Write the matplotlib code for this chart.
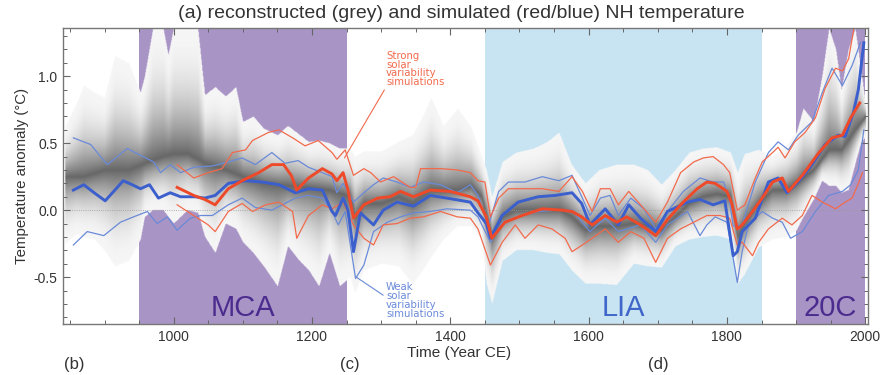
import numpy as np
import matplotlib
matplotlib.use("Agg")
import matplotlib.pyplot as plt
from matplotlib.ticker import MultipleLocator

# ---------------- data ----------------
blue_thick_years = [855, 870, 885, 901, 915, 927, 940, 952, 965, 978, 995, 1010, 1031, 1045, 1060, 1079, 1104,
                    1128, 1152, 1176, 1195, 1215, 1229, 1234, 1245, 1252, 1260, 1270, 1289, 1303, 1323, 1347,
                    1371, 1395, 1429, 1440, 1452, 1458, 1475, 1498, 1527, 1552, 1576, 1590, 1602, 1624, 1643,
                    1658, 1675, 1697, 1714, 1743, 1761, 1780, 1797, 1809, 1815, 1822, 1841, 1860, 1874, 1887,
                    1903, 1923, 1942, 1961, 1971, 1983, 1990, 1998]
blue_thick = [0.15, 0.19, 0.13, 0.07, 0.15, 0.22, 0.19, 0.16, 0.19, 0.09, 0.13, 0.10, 0.10, 0.09, 0.11, 0.20, 0.22,
              0.21, 0.19, 0.13, 0.16, 0.15, -0.01, -0.04, 0.09, 0.0, -0.31, -0.02, -0.11, 0.0, 0.06, 0.03,
              0.11, 0.09, 0.06, -0.02, -0.10, -0.21, -0.04, 0.06, 0.10, 0.11, 0.13, 0.05, -0.11, 0.01, -0.11,
              0.04, -0.06, -0.16, -0.01, 0.06, 0.08, 0.04, 0.07, -0.34, -0.31, -0.16, -0.06, 0.21, 0.24, 0.13,
              0.21, 0.34, 0.49, 0.56, 0.55, 0.73, 0.90, 1.25]

red_thick_years = [1005, 1029, 1045, 1060, 1079, 1099, 1123, 1142, 1159, 1170, 1178, 1195, 1215, 1229, 1236,
                   1245, 1252, 1260, 1275, 1295, 1313, 1328, 1347, 1371, 1400, 1429, 1440, 1452, 1460, 1479,
                   1504, 1533, 1562, 1576, 1590, 1605, 1624, 1641, 1655, 1675, 1697, 1714, 1733, 1757, 1771,
                   1783, 1800, 1807, 1815, 1822, 1837, 1851, 1866, 1880, 1889, 1909, 1933, 1952, 1967, 1979, 1992]
red_thick = [0.17, 0.11, 0.08, 0.04, 0.16, 0.22, 0.28, 0.34, 0.34, 0.26, 0.15, 0.24, 0.31, 0.27, 0.22,
             0.28, 0.15, -0.06, 0.04, 0.09, 0.10, 0.14, 0.10, 0.15, 0.14, 0.10, 0.07, -0.05, -0.21, -0.09,
             -0.04, 0.01, 0.0, -0.01, -0.05, -0.11, -0.04, -0.09, -0.05, -0.11, -0.19, -0.07, 0.04, 0.16, 0.21,
             0.20, 0.14, 0.05, -0.14, -0.11, -0.01, 0.09, 0.21, 0.24, 0.14, 0.26, 0.43, 0.54, 0.56, 0.69, 0.80]

blue_up_years = [855, 880, 904, 933, 952, 971, 981, 995, 1010, 1029, 1056, 1079, 1099, 1118, 1142, 1161, 1180,
                 1195, 1215, 1229, 1236, 1245, 1260, 1275, 1289, 1303, 1323, 1342, 1361, 1386, 1410, 1429,
                 1440, 1455, 1470, 1484, 1508, 1533, 1557, 1576, 1591, 1602, 1617, 1631, 1643, 1661, 1680,
                 1697, 1714, 1737, 1761, 1780, 1795, 1803, 1809, 1822, 1841, 1860, 1874, 1889, 1903, 1923,
                 1938, 1952, 1967, 1981, 1993]
blue_up = [0.54, 0.49, 0.34, 0.46, 0.41, 0.36, 0.28, 0.34, 0.28, 0.32, 0.33, 0.36, 0.39, 0.34, 0.43, 0.35, 0.37,
           0.32, 0.28, 0.25, 0.13, 0.20, 0.06, 0.13, 0.19, 0.24, 0.21, 0.17, 0.21, 0.19, 0.13, 0.19,
           0.11, -0.12, 0.14, 0.21, 0.21, 0.25, 0.22, 0.26, 0.09, -0.04, 0.09, 0.11, -0.04, 0.09, 0.01,
           -0.14, -0.01, 0.14, 0.24, 0.21, 0.21, 0.10, -0.12, -0.11, 0.21, 0.43, 0.51, 0.45, 0.56, 0.66,
           0.88, 1.06, 0.93, 1.08, 1.25]

blue_low_years = [855, 875, 899, 923, 942, 962, 976, 991, 1005, 1024, 1039, 1056, 1079, 1099, 1118, 1142, 1157,
                  1176, 1195, 1215, 1229, 1238, 1248, 1263, 1275, 1289, 1309, 1328, 1347, 1371, 1395, 1429,
                  1440, 1458, 1475, 1498, 1527, 1552, 1576, 1602, 1624, 1643, 1675, 1697, 1714, 1743, 1761,
                  1771, 1783, 1800, 1815, 1822, 1831, 1851, 1866, 1880, 1892, 1909, 1928, 1947, 1967, 1979,
                  1990, 1998]
blue_low = [-0.26, -0.16, -0.19, -0.09, -0.05, -0.01, -0.10, -0.05, -0.15, -0.06, -0.04, -0.04, 0.04, 0.09, 0.02,
            0.0, 0.04, 0.09, 0.11, 0.09, -0.01, -0.11, -0.01, -0.51, -0.41, -0.16, -0.09, -0.05, -0.02, -0.01,
            0.01, 0.0, -0.05, -0.24, -0.09, -0.05, -0.01, 0.0, 0.0, -0.16, -0.06, -0.16, -0.11, -0.24, -0.11,
            -0.01, -0.19, -0.11, -0.05, -0.09, -0.54, -0.31, -0.11, -0.01, -0.06, -0.09, -0.21, -0.16, -0.01,
            0.11, 0.14, 0.19, 0.30, 0.60]

red_up_years = [1005, 1029, 1050, 1070, 1085, 1104, 1114, 1137, 1152, 1172, 1190, 1209, 1229, 1236, 1248, 1260,
                1275, 1285, 1299, 1318, 1342, 1350, 1357, 1386, 1410, 1429, 1440, 1450, 1458, 1470, 1484,
                1508, 1533, 1557, 1576, 1591, 1605, 1617, 1631, 1643, 1658, 1675, 1697, 1714, 1733, 1752,
                1766, 1780, 1795, 1804, 1815, 1826, 1841, 1851, 1866, 1874, 1884, 1898, 1913, 1928, 1942,
                1957, 1967, 1976, 1985]
red_up = [0.34, 0.24, 0.28, 0.31, 0.43, 0.45, 0.52, 0.58, 0.60, 0.54, 0.48, 0.52, 0.43, 0.38, 0.45, 0.26,
          0.31, 0.28, 0.21, 0.25, 0.17, 0.17, 0.31, 0.31, 0.30, 0.28, 0.22, 0.21, -0.05, 0.09, 0.16,
          0.16, 0.16, 0.14, 0.25, 0.14, -0.01, 0.16, 0.16, 0.04, 0.14, 0.04, -0.09, 0.06, 0.28, 0.36,
          0.39, 0.40, 0.34, 0.28, 0.0, 0.04, 0.24, 0.36, 0.43, 0.47, 0.39, 0.51, 0.58, 0.69, 0.91,
          1.06, 1.04, 1.13, 1.40]

red_low_years = [1005, 1029, 1050, 1060, 1079, 1099, 1114, 1133, 1152, 1172, 1178, 1195, 1215, 1229, 1245, 1260,
                 1275, 1289, 1303, 1323, 1342, 1361, 1386, 1410, 1429, 1440, 1458, 1475, 1494, 1508, 1527,
                 1547, 1566, 1576, 1591, 1605, 1624, 1643, 1661, 1680, 1697, 1714, 1733, 1752, 1771, 1790,
                 1804, 1815, 1822, 1837, 1846, 1860, 1880, 1894, 1909, 1923, 1938, 1957, 1971, 1981, 1990, 1996]
red_low = [0.04, -0.04, -0.11, -0.16, -0.01, 0.05, -0.01, 0.04, 0.06, -0.01, -0.21, -0.04, 0.04, 0.01, 0.06, -0.11,
           -0.21, -0.26, -0.11, -0.10, -0.06, -0.05, -0.01, -0.05, -0.06, -0.14, -0.41, -0.24, -0.11, -0.21, -0.11,
           -0.14, -0.21, -0.31, -0.26, -0.21, -0.14, -0.24, -0.16, -0.21, -0.39, -0.21, -0.14, -0.09, -0.04, -0.04,
           -0.06, -0.26, -0.24, -0.34, -0.24, -0.14, -0.06, -0.11, -0.04, 0.11, 0.06, 0.01, 0.06, 0.09, 0.20, 0.28]

# reconstruction envelope (grey): outer upper / lower edges and the darkest core
grey_years = [843, 860, 870, 885, 900, 915, 935, 952, 958, 970, 985, 992, 1000, 1020, 1035, 1045, 1060, 1075,
              1090, 1100, 1115, 1130, 1150, 1165, 1180, 1195, 1210, 1225, 1240, 1255, 1262, 1275, 1300, 1325,
              1345, 1360, 1372, 1390, 1410, 1430, 1445, 1452, 1460, 1475, 1495, 1520, 1540, 1557, 1575, 1595,
              1615, 1640, 1665, 1685, 1705, 1725, 1745, 1765, 1785, 1805, 1815, 1825, 1845, 1865, 1885, 1900,
              1910, 1925, 1937, 1947, 1957, 1965, 1975, 1985, 1993, 2000]
grey_up = [0.62, 0.80, 0.93, 0.88, 0.84, 1.15, 1.10, 0.88, 1.00, 1.36, 1.36, 1.16, 1.36, 1.36, 1.36, 0.86, 0.92, 0.85,
           0.92, 0.66, 0.70, 0.61, 0.56, 0.63, 0.57, 0.51, 0.52, 0.50, 0.46, 0.46, 0.40, 0.44, 0.44, 0.51,
           0.56, 0.70, 0.84, 0.63, 0.76, 0.62, 0.40, 0.30, 0.10, 0.36, 0.43, 0.46, 0.51, 0.58, 0.34, 0.20,
           0.30, 0.34, 0.34, 0.30, 0.19, 0.30, 0.43, 0.46, 0.47, 0.43, 0.28, 0.42, 0.45, 0.40, 0.48, 0.58,
           0.76, 0.66, 1.00, 1.36, 1.20, 0.90, 1.20, 1.36, 1.05, 0.80]
grey_low = [-0.25, -0.18, -0.20, -0.22, -0.30, -0.42, -0.38, -0.22, -0.05, 0.0, 0.0, -0.05, -0.10, 0.0, -0.02, -0.20,
            -0.32, -0.10, -0.14, -0.24, -0.32, -0.42, -0.57, -0.27, -0.37, -0.45, -0.57, -0.32, -0.57, -0.50, -0.62,
            -0.45, -0.40, -0.42, -0.55, -0.45, -0.35, -0.22, -0.12, -0.12, -0.22, -0.55, -0.70, -0.38, -0.30,
            -0.30, -0.32, -0.33, -0.45, -0.55, -0.55, -0.56, -0.40, -0.42, -0.43, -0.27, -0.22, -0.20, -0.19,
            -0.22, -0.55, -0.48, -0.28, -0.22, -0.20, -0.15, -0.05, 0.08, 0.22, 0.18, 0.18, 0.13, 0.15, 0.35,
            0.50, 0.55]
core_years = [843, 870, 900, 935, 958, 985, 1000, 1020, 1045, 1075, 1100, 1130, 1165, 1195, 1225, 1255, 1262, 1275,
              1300, 1325, 1345, 1372, 1410, 1430, 1445, 1460, 1475, 1495, 1520, 1557, 1575, 1595, 1615, 1640,
              1665, 1685, 1705, 1725, 1745, 1765, 1785, 1805, 1815, 1825, 1845, 1865, 1885, 1900, 1925, 1947,
              1965, 1985, 2000]
core = [0.25, 0.25, 0.30, 0.30, 0.35, 0.40, 0.42, 0.42, 0.35, 0.30, 0.25, 0.20, 0.18, 0.17, 0.15, 0.10, -0.05, 0.05,
        0.05, 0.10, 0.05, 0.15, 0.15, 0.18, 0.10, -0.20, -0.05, 0.0, 0.0, 0.0, -0.05, -0.15, -0.12, -0.12,
        -0.10, -0.12, -0.15, -0.05, 0.05, 0.10, 0.12, 0.10, -0.20, -0.10, 0.05, 0.15, 0.15, 0.20, 0.30, 0.45,
        0.45, 0.60, 0.70]

periods = [("MCA", 950, 1250), ("LIA", 1450, 1850), ("20C", 1900, 2000)]
x_ticks = [1000, 1200, 1400, 1600, 1800, 2000]
y_ticks = [-0.5, 0.0, 0.5, 1.0]
y_ticklabels = ["-0.5", "0.0", "0.5", "1.0"]

# ---------------- figure ----------------
plt.rcParams['font.family'] = ['Liberation Sans', 'DejaVu Sans']
fig = plt.figure(figsize=(8.9, 3.75), dpi=100)
ax = fig.add_axes([0.0708, 0.136, 0.9045, 0.7893])
XMIN, XMAX, YMIN, YMAX = 840, 2004, -0.85, 1.36
ax.set_xlim(XMIN, XMAX)
ax.set_ylim(YMIN, YMAX)

purple = '#a994c6'
lightblue = '#c8e4f2'
span_col = {"MCA": purple, "LIA": lightblue, "20C": purple}
txt_col = {"MCA": '#4b2c8e', "LIA": '#3f66c8', "20C": '#4b2c8e'}
for name, a, b in periods:
    ax.axvspan(a, b, color=span_col[name], lw=0, zorder=0)

# grey density envelope rendered as an image
xs = np.linspace(XMIN, XMAX, 1400)
ys = np.linspace(YMIN, YMAX, 600)
up = np.interp(xs, grey_years, grey_up)
lo = np.interp(xs, grey_years, grey_low)
cc = np.clip(np.interp(xs, core_years, core), lo + 0.02, up - 0.02)
X, Y = np.meshgrid(xs, ys)
UP, LO, CC = up[None, :], lo[None, :], cc[None, :]
d = np.where(Y >= CC, (Y - CC) / (UP - CC), (CC - Y) / (CC - LO))
inside = (Y <= UP) & (Y >= LO) & (X >= grey_years[0]) & (X <= grey_years[-1])
w = np.clip(1 - d, 0, 1)
v = 0.965 - 0.56 * w ** 2.2
rgba = np.zeros(Y.shape + (4,))
rgba[..., 0] = v
rgba[..., 1] = v
rgba[..., 2] = v
rgba[..., 3] = inside.astype(float)
ax.imshow(rgba, extent=[XMIN, XMAX, YMIN, YMAX], origin='lower', aspect='auto',
          interpolation='bilinear', zorder=1)

ax.axhline(0, color='#999999', lw=0.6, ls=':', zorder=1.5)

red = '#ee4a2a'
red_thin = '#f26a4c'
blue = '#3b5fcc'
blue_thin = '#6a8ad8'
ax.plot(blue_up_years, blue_up, color=blue_thin, lw=0.9, zorder=3)
ax.plot(blue_low_years, blue_low, color=blue_thin, lw=0.9, zorder=3)
ax.plot(red_up_years, red_up, color=red_thin, lw=0.9, zorder=3)
ax.plot(red_low_years, red_low, color=red_thin, lw=0.9, zorder=3)
ax.plot(blue_thick_years, blue_thick, color=blue, lw=2.1, zorder=4)
ax.plot(red_thick_years, red_thick, color=red, lw=2.1, zorder=5)

for name, a, b in periods:
    ax.text((a + b) / 2, -0.73, name, color=txt_col[name], fontsize=21,
            ha='center', va='center', zorder=6)

ax.annotate("Strong\nsolar\nvariability\nsimulations", xy=(1247, 0.39), xytext=(1307, 1.19),
            color=red_thin, fontsize=7.3, ha='left', va='top', linespacing=0.85,
            family=['DejaVu Sans'],
            arrowprops=dict(arrowstyle='-', color=red_thin, lw=0.8, shrinkA=0, shrinkB=0,
                            relpos=(0.0, 0.0)), zorder=6)
ax.annotate("Weak\nsolar\nvariability\nsimulations", xy=(1264, -0.50), xytext=(1307, -0.54),
            color=blue_thin, fontsize=7.3, ha='left', va='top', linespacing=0.85,
            family=['DejaVu Sans'],
            arrowprops=dict(arrowstyle='-', color=blue_thin, lw=0.8, shrinkA=0, shrinkB=0,
                            relpos=(0.0, 0.6)), zorder=6)

# axes styling
ax.set_xticks(x_ticks)
ax.set_yticks(y_ticks)
ax.set_yticklabels(y_ticklabels)
ax.xaxis.set_minor_locator(MultipleLocator(50))
ax.yaxis.set_minor_locator(MultipleLocator(0.1))
ax.tick_params(which='both', direction='in', top=True, right=True, colors='#666666',
               labelcolor='#333333', labelsize=10)
ax.tick_params(which='major', length=5, width=0.8, pad=4)
ax.tick_params(which='minor', length=3, width=0.7)
for s in ax.spines.values():
    s.set_color('#777777')
    s.set_linewidth(1.0)
    s.set_zorder(7)

ax.set_xlabel("Time (Year CE)", fontsize=11, color='#333333', labelpad=0)
ax.xaxis.set_label_coords(0.492, -0.075)
ax.set_ylabel("Temperature anomaly (°C)", fontsize=10.8, color='#333333', labelpad=3)
fig.text(0.518, 0.964, "(a) reconstructed (grey) and simulated (red/blue) NH temperature",
         ha='center', va='center', fontsize=14, color='#333333')
for lbl, xp in [("(b)", 0.072), ("(c)", 0.382), ("(d)", 0.728)]:
    fig.text(xp, 0.027, lbl, ha='left', va='center', fontsize=12, color='#333333')

fig.savefig("out.png", dpi=100)
